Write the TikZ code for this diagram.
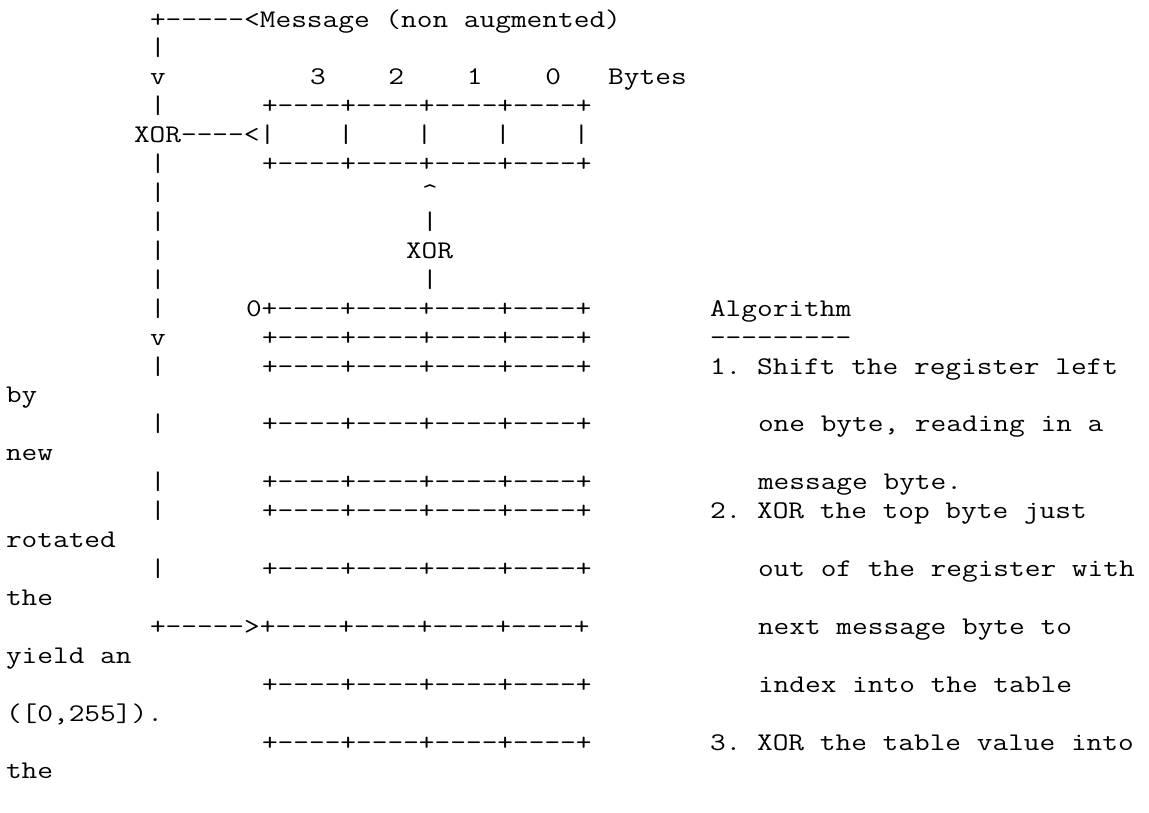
\documentclass[tikz,border=0pt]{standalone}
\usepackage{fontspec}
\setmonofont[FakeStretch=1.2]{Latin Modern Mono}
\tikzset{
  asc/.style={anchor=base west, inner sep=0pt, outer sep=0pt,
    font=\ttfamily\fontsize{25.4}{28}\selectfont\frenchspacing}
}
% name, column, line, text
\newcommand\tline[4]{\node[asc] (#1) at ({6+#2*16},{-(27+(#3-1)*28.92)}) {#4};}
\newcommand\boxrow{+----+----+----+----+}
\begin{document}
\begin{tikzpicture}[x=1pt,y=1pt]
\fill[white] (0,0) rectangle (1149,-812);
\useasboundingbox (0,0) rectangle (1149,-812);
\tline{msg}{9}{1}{+-----<Message (non augmented)}
\tline{l2}{9}{2}{|}
\tline{v3}{9}{3}{v}
\tline{bytes}{19}{3}{3~~~~2~~~~1~~~~0~~~Bytes}
\tline{l4}{9}{4}{|}
\tline{regtop}{16}{4}{\boxrow}
\tline{reg}{8}{5}{XOR----<|~~~~|~~~~|~~~~|~~~~|}
\tline{l6}{9}{6}{|}
\tline{regbot}{16}{6}{\boxrow}
\tline{l7}{9}{7}{|}
\tline{up}{26}{7}{\textasciicircum}
\tline{l8}{9}{8}{|}
\tline{u8}{26}{8}{|}
\tline{l9}{9}{9}{|}
\tline{xor}{25}{9}{XOR}
\tline{l10}{9}{10}{|}
\tline{u10}{26}{10}{|}
\tline{l11}{9}{11}{|}
\tline{t0}{15}{11}{0\boxrow}
\tline{alg}{44}{11}{Algorithm}
\tline{v12}{9}{12}{v}
\tline{t1}{16}{12}{\boxrow}
\tline{algu}{44}{12}{---------}
\tline{l13}{9}{13}{|}
\tline{t2}{16}{13}{\boxrow}
\tline{s1}{44}{13}{1. Shift the register left}
\tline{w14}{0}{14}{by}
\tline{l15}{9}{15}{|}
\tline{t3}{16}{15}{\boxrow}
\tline{s1b}{47}{15}{one byte, reading in a}
\tline{w16}{0}{16}{new}
\tline{l17}{9}{17}{|}
\tline{t4}{16}{17}{\boxrow}
\tline{s1c}{47}{17}{message byte.}
\tline{l18}{9}{18}{|}
\tline{t5}{16}{18}{\boxrow}
\tline{s2}{44}{18}{2. XOR the top byte just}
\tline{w19}{0}{19}{rotated}
\tline{l20}{9}{20}{|}
\tline{t6}{16}{20}{\boxrow}
\tline{s2b}{47}{20}{out of the register with}
\tline{w21}{0}{21}{the}
\tline{feed}{9}{22}{+----->\boxrow}
\tline{s2c}{47}{22}{next message byte to}
\tline{w23}{0}{23}{yield an}
\tline{t8}{16}{24}{\boxrow}
\tline{s2d}{47}{24}{index into the table}
\tline{w25}{0}{25}{([0,255]).}
\tline{t9}{16}{26}{\boxrow}
\tline{s3}{44}{26}{3. XOR the table value into}
\tline{w27}{0}{27}{the}
\end{tikzpicture}
\end{document}
